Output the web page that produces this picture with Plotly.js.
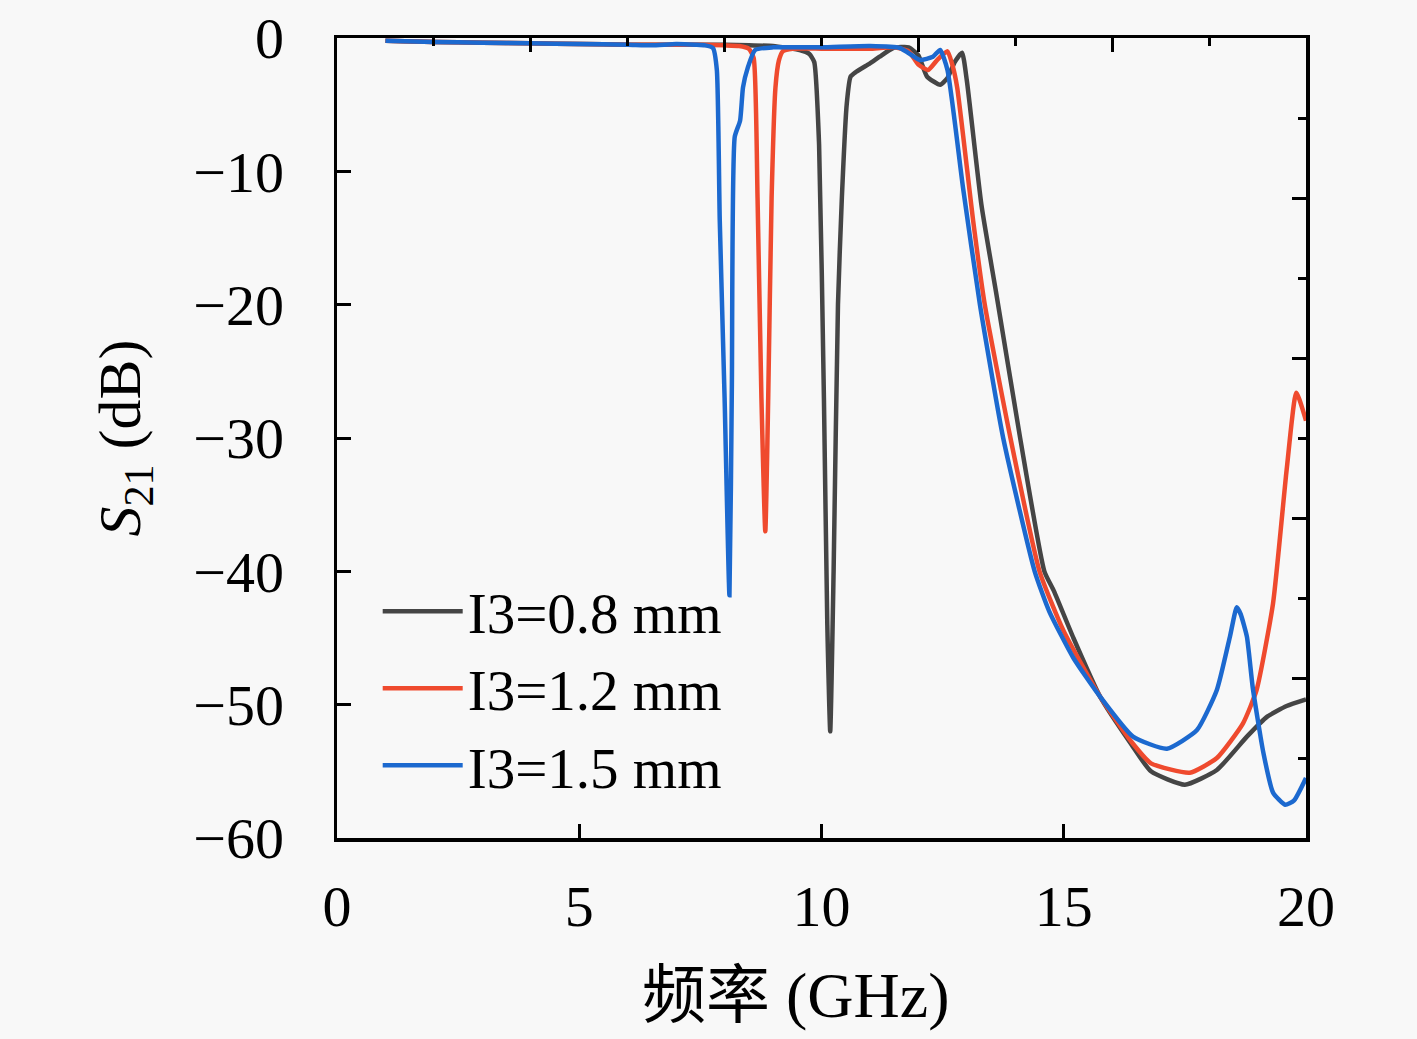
<!DOCTYPE html>
<html>
<head>
<meta charset="utf-8">
<script src="https://cdn.plot.ly/plotly-3.0.1.min.js"></script>
<style>
  html, body { margin: 0; padding: 0; background: #f8f8f8; }
  #chart { width: 1417px; height: 1039px; }
</style>
</head>
<body>
<div id="chart"></div>
<script>
// S21 curves (GHz, dB)
const freq08 = [1, 2, 3, 4, 5, 6, 7, 8, 8.5, 9, 9.3, 9.55, 9.75, 9.85, 9.95, 10.05, 10.12, 10.18, 10.25, 10.34, 10.42, 10.52, 10.6, 10.71, 11.0, 11.2, 11.48, 11.8, 12.0, 12.18, 12.45, 12.6, 12.75, 12.9, 13.0, 13.3, 13.6, 14.1, 14.6, 14.8, 15.2, 15.75, 16.4, 16.8, 17.5, 18.16, 18.78, 19.2, 19.6, 20];
const s21_08 = [-0.2, -0.3, -0.35, -0.4, -0.45, -0.5, -0.5, -0.5, -0.55, -0.6, -0.75, -0.9, -1.2, -1.8, -8, -27, -44, -52, -40, -20, -12, -5, -2.9, -2.55, -1.9, -1.4, -0.75, -0.7, -1.3, -2.9, -3.5, -3.0, -1.8, -1.1, -3.2, -12.5, -19, -30, -40, -41.5, -45, -49.4, -53, -55, -56, -54.9, -52.4, -50.9, -50.1, -49.6];

const freq12 = [1, 2, 3, 4, 5, 6, 7, 7.5, 8, 8.3, 8.5, 8.6, 8.68, 8.76, 8.84, 8.9, 8.97, 9.05, 9.12, 9.2, 9.4, 10, 10.5, 11, 11.5, 11.8, 12.0, 12.2, 12.4, 12.6, 12.7, 12.8, 13.13, 13.37, 13.9, 14.5, 15.0, 15.75, 16.4, 16.8, 17.6, 18.16, 18.7, 18.98, 19.32, 19.6, 19.8, 20];
const s21_12 = [-0.2, -0.3, -0.35, -0.4, -0.45, -0.5, -0.5, -0.5, -0.55, -0.6, -0.8, -1.5, -12, -27, -37, -27, -12, -3.7, -1.7, -1.0, -0.8, -0.8, -0.8, -0.8, -0.7, -1.0, -2.0, -2.4, -1.6, -1.0, -2.0, -3.7, -13.7, -20, -30, -40, -44.5, -49.4, -52.8, -54.4, -55.1, -54, -51.4, -48.9, -42.4, -32.4, -26.6, -28.7];

const freq15 = [1, 2, 3, 4, 5, 6, 6.5, 7, 7.4, 7.6, 7.76, 7.84, 7.9, 8.0, 8.1, 8.15, 8.21, 8.32, 8.38, 8.48, 8.63, 9, 10, 11, 11.62, 12.03, 12.3, 12.45, 12.6, 12.92, 13.27, 13.75, 14.4, 14.7, 15.2, 15.75, 16.43, 17.13, 17.75, 18.16, 18.43, 18.57, 18.65, 18.78, 18.9, 19.12, 19.32, 19.57, 19.75, 20];
const s21_15 = [-0.2, -0.3, -0.35, -0.4, -0.45, -0.5, -0.55, -0.45, -0.5, -0.55, -0.75, -2.4, -13.7, -27, -41.8, -26, -7.4, -6.2, -3.7, -2.2, -0.9, -0.7, -0.7, -0.6, -0.75, -1.65, -1.4, -0.9, -2.4, -11.2, -20, -30, -40, -43, -46.5, -49.4, -52.4, -53.3, -51.9, -48.9, -44.9, -42.7, -43.2, -44.9, -48.7, -53.6, -56.6, -57.5, -57.2, -55.5];

const seriesNames = ["I3=0.8 mm", "I3=1.2 mm", "I3=1.5 mm"];
const seriesColors = ["#454545", "#ef4a2e", "#1c69cf"];

const serif = "Liberation Serif, DejaVu Serif, serif";

function curve(x, y, i) {
  return {
    x: x, y: y, name: seriesNames[i], type: "scatter", mode: "lines",
    line: { color: seriesColors[i], width: 4.5, shape: "spline", smoothing: 0.5 },
    hoverinfo: "skip"
  };
}

const traces = [
  curve(freq08, s21_08, 0),
  curve(freq12, s21_12, 1),
  curve(freq15, s21_15, 2),
  // empty trace so the mirrored top/right axes get drawn
  { x: [], y: [], xaxis: "x2", yaxis: "y2", showlegend: false, hoverinfo: "skip" }
];

const axisCommon = {
  showgrid: false, zeroline: false,
  showline: true, linewidth: 3.5, linecolor: "#000",
  ticks: "inside", ticklen: 14, tickwidth: 3, tickcolor: "#000"
};

const layout = {
  width: 1417, height: 1039,
  margin: { l: 337, r: 111, t: 38, b: 201 },
  paper_bgcolor: "#f8f8f8",
  plot_bgcolor: "#f8f8f8",
  showlegend: true,
  legend: {
    x: 0.042, y: 0.338, xanchor: "left", yanchor: "top",
    bgcolor: "rgba(0,0,0,0)", borderwidth: 0,
    itemwidth: 80,
    font: { family: serif, size: 57, color: "#000" }
  },
  xaxis: Object.assign({}, axisCommon, {
    range: [0, 20], tick0: 0, dtick: 5,
    tickfont: { family: serif, size: 58, color: "#000" },
    ticklabelstandoff: 15
  }),
  yaxis: Object.assign({}, axisCommon, {
    range: [-60, 0], tick0: 0, dtick: 10,
    tickfont: { family: serif, size: 58, color: "#000" },
    ticklabelstandoff: 38,
    title: { text: "<i>S</i><sub>21</sub> (dB)", standoff: 34,
      font: { family: serif, size: 60, color: "#000" } }
  }),
  xaxis2: Object.assign({}, axisCommon, {
    overlaying: "x", side: "top", range: [0, 20], tick0: 0, dtick: 4,
    showticklabels: false,
    minor: { dtick: 2, ticks: "inside", ticklen: 8, tickwidth: 3, tickcolor: "#000" }
  }),
  yaxis2: Object.assign({}, axisCommon, {
    overlaying: "y", side: "right", range: [-60, 0], tick0: 0, dtick: 12,
    showticklabels: false,
    minor: { dtick: 6, ticks: "inside", ticklen: 8, tickwidth: 3, tickcolor: "#000" }
  }),
  annotations: [{
    // x-axis title, placed where the reference has it (slightly left of centre)
    text: "频率 (GHz)", xref: "paper", yref: "paper",
    x: 0.4727, y: -0.197, xanchor: "center", yanchor: "middle", showarrow: false,
    font: { family: "Liberation Serif, Noto Sans CJK SC, serif", size: 64, color: "#000" }
  }]
};

Plotly.newPlot("chart", traces, layout, { displayModeBar: false, staticPlot: true });
</script>
</body>
</html>
